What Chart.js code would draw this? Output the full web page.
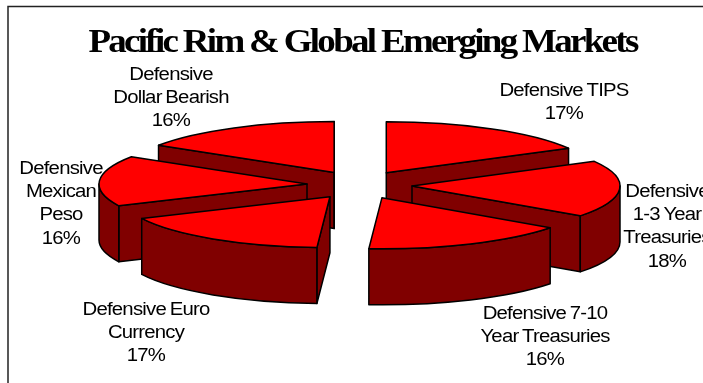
<!DOCTYPE html>
<html>
<head>
<meta charset="utf-8">
<title>Pacific Rim & Global Emerging Markets</title>
<script src="https://cdn.jsdelivr.net/npm/chart.js@4/dist/chart.umd.min.js"></script>
<style>
  body { margin: 0; background: #fff; }
  canvas { display: block; }
</style>
</head>
<body>
<canvas id="pieChart" width="703" height="383"></canvas>
<script>
const chartTitle = 'Pacific Rim & Global Emerging Markets';
const categories = [
  ['Defensive TIPS'],
  ['Defensive', '1-3 Year', 'Treasuries'],
  ['Defensive 7-10', 'Year Treasuries'],
  ['Defensive Euro', 'Currency'],
  ['Defensive', 'Mexican', 'Peso'],
  ['Defensive', 'Dollar Bearish']
];
const shares = [17, 18, 16, 17, 16, 16];

// centre x and first baseline for each slice label
const labelSpots = [[564, 96], [667, 197], [545, 319], [146, 315], [61, 174], [171, 80]];

const TILT = 0.245;        // vertical squash of the pie
const EXPLODE_TILT = 0.27; // squash applied to the slice offset
const DEPTH = 56;
const WALL = '#800000';

// Geometry of one slice, taken from the arc element the controller laid out
function sliceShape(arc) {
  const { x, y, startAngle, endAngle, outerRadius } = arc.getProps(['x', 'y', 'startAngle', 'endAngle', 'outerRadius']);
  const mid = (startAngle + endAngle) / 2;
  const off = arc.options.offset;
  return {
    cx: x + Math.cos(mid) * off,
    cy: y + Math.sin(mid) * off * EXPLODE_TILT,
    r: outerRadius,
    start: startAngle,
    end: endAngle,
    mid
  };
}

function paint(ctx, fill) {
  ctx.fillStyle = fill;
  ctx.fill();
  ctx.stroke();
}

function drawRadialWall(ctx, s, angle) {
  const px = s.cx + Math.cos(angle) * s.r;
  const py = s.cy + Math.sin(angle) * s.r * TILT;
  ctx.beginPath();
  ctx.moveTo(s.cx, s.cy);
  ctx.lineTo(px, py);
  ctx.lineTo(px, py + DEPTH);
  ctx.lineTo(s.cx, s.cy + DEPTH);
  ctx.closePath();
  paint(ctx, WALL);
}

function drawSlice(ctx, arc) {
  const s = sliceShape(arc);

  // only the faces turned towards the viewer
  if (Math.cos(s.start) < 0) drawRadialWall(ctx, s, s.start);
  if (Math.cos(s.end) > 0) drawRadialWall(ctx, s, s.end);

  const a = Math.max(s.start, 0);
  const b = Math.min(s.end, Math.PI);
  if (a < b) {
    ctx.beginPath();
    ctx.ellipse(s.cx, s.cy, s.r, s.r * TILT, 0, a, b);
    ctx.ellipse(s.cx, s.cy + DEPTH, s.r, s.r * TILT, 0, b, a, true);
    ctx.closePath();
    paint(ctx, WALL);
  }

  // top face
  ctx.beginPath();
  ctx.moveTo(s.cx, s.cy);
  ctx.ellipse(s.cx, s.cy, s.r, s.r * TILT, 0, s.start, s.end);
  ctx.closePath();
  paint(ctx, arc.options.backgroundColor);
}

const tiltedPie = {
  id: 'tiltedPie',
  beforeDatasetDraw(chart, args) {
    const ctx = chart.ctx;
    const arcs = args.meta.data.slice();
    // back slices first so the front ones cover them
    arcs.sort((p, q) => Math.sin((p.startAngle + p.endAngle) / 2) - Math.sin((q.startAngle + q.endAngle) / 2));
    ctx.save();
    ctx.strokeStyle = '#000';
    ctx.lineWidth = 1.5;
    ctx.lineJoin = 'round';
    arcs.forEach(arc => drawSlice(ctx, arc));
    ctx.restore();
    return false;
  }
};

// the type is set wide and tight, so each line gets a horizontal stretch
function wideText(ctx, text, x, y, stretch) {
  ctx.save();
  ctx.translate(x, y);
  ctx.scale(stretch, 1);
  ctx.fillText(text, 0, 0);
  ctx.restore();
}

const frameAndText = {
  id: 'frameAndText',
  beforeDraw(chart) {
    const ctx = chart.ctx;
    ctx.save();
    ctx.strokeStyle = '#222';
    ctx.lineWidth = 1.5;
    ctx.beginPath();
    ctx.moveTo(8, 383);
    ctx.lineTo(8, 6.5);
    ctx.lineTo(703, 6.5);
    ctx.stroke();
    ctx.restore();
  },
  afterDraw(chart) {
    const ctx = chart.ctx;
    ctx.save();
    ctx.fillStyle = '#000';
    ctx.textAlign = 'center';
    ctx.textBaseline = 'alphabetic';

    ctx.font = 'bold 33px "Liberation Serif"';
    ctx.letterSpacing = '-2.4px';
    ctx.wordSpacing = '0px';
    wideText(ctx, chartTitle, 362.5, 52, 1.12);

    ctx.font = '18px "Liberation Sans"';
    ctx.letterSpacing = '-0.7px';
    ctx.wordSpacing = '-1px';
    categories.forEach((lines, i) => {
      const [x, y] = labelSpots[i];
      lines.concat(shares[i] + '%').forEach((line, n) => {
        wideText(ctx, line, x, y + n * 23.2, 1.13);
      });
    });
    ctx.restore();
  }
};

new Chart(document.getElementById('pieChart'), {
  type: 'pie',
  data: {
    labels: categories.map(c => c.join(' ')),
    datasets: [{
      data: shares,
      backgroundColor: '#ff0000',
      borderWidth: 0,
      offset: 52.6,
      radius: 208
    }]
  },
  options: {
    responsive: false,
    animation: false,
    layout: { padding: { left: 16, bottom: 13 } },
    plugins: { legend: { display: false }, tooltip: { enabled: false } }
  },
  plugins: [tiltedPie, frameAndText]
});
</script>
</body>
</html>
